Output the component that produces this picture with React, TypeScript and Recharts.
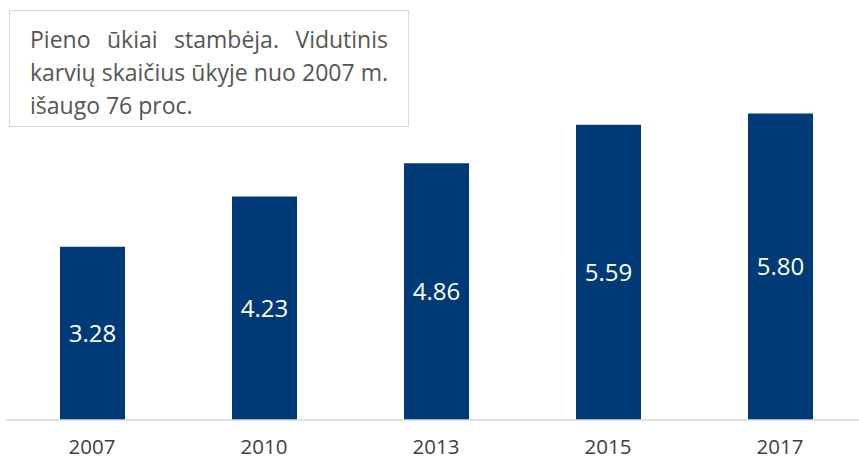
import React from "react";
import { BarChart, Bar, XAxis, YAxis, LabelList } from "recharts";

const years = ["2007", "2010", "2013", "2015", "2017"];
const cows = [3.28, 4.23, 4.86, 5.59, 5.8];
const noteLines = [
  "Pieno ūkiai stambėja. Vidutinis",
  "karvių skaičius ūkyje nuo 2007 m.",
  "išaugo 76 proc.",
];

const data = years.map((y, i) => ({ year: y, value: cows[i] }));

const FONT = "'Open Sans', sans-serif";

export default function App() {
  return (
    <div
      style={{
        position: "absolute",
        left: 0,
        top: 0,
        width: 859,
        height: 461,
        overflow: "hidden",
        background: "#ffffff",
        fontFamily: FONT,
      }}
    >
      <BarChart
        width={870}
        height={461}
        data={data}
        margin={{ top: 0, right: 4, left: 6, bottom: 0 }}
      >
        <YAxis hide domain={[0, 7.95]} />
        <XAxis
          dataKey="year"
          height={41}
          tickLine={false}
          tickSize={0}
          tickMargin={19}
          axisLine={{ stroke: "#d9d9d9", strokeWidth: 1.5 }}
          tick={{ fill: "#404040", fontSize: 20.5, fontFamily: FONT }}
          interval={0}
        />
        <Bar dataKey="value" fill="#003B78" barSize={65} isAnimationActive={false}>
          <LabelList
            dataKey="value"
            position="center"
            formatter={(v: number) => v.toFixed(2)}
            fill="#ffffff"
            fontSize={24}
            fontFamily={FONT}
          />
        </Bar>
      </BarChart>
      <div
        style={{
          position: "absolute",
          left: 9,
          top: 10,
          width: 400,
          height: 117,
          boxSizing: "border-box",
          border: "1px solid #d9d9d9",
          background: "#ffffff",
          padding: "12px 20px 0 20px",
          color: "#555555",
          fontSize: 23,
          lineHeight: "33px",
          fontFamily: FONT,
        }}
      >
        {noteLines.map((l, i) => (
          <div
            key={i}
            style={{
              textAlign: i < noteLines.length - 1 ? "justify" : "left",
              textAlignLast: i < noteLines.length - 1 ? "justify" : "left",
              whiteSpace: "nowrap",
            }}
          >
            {l}
          </div>
        ))}
      </div>
    </div>
  );
}
